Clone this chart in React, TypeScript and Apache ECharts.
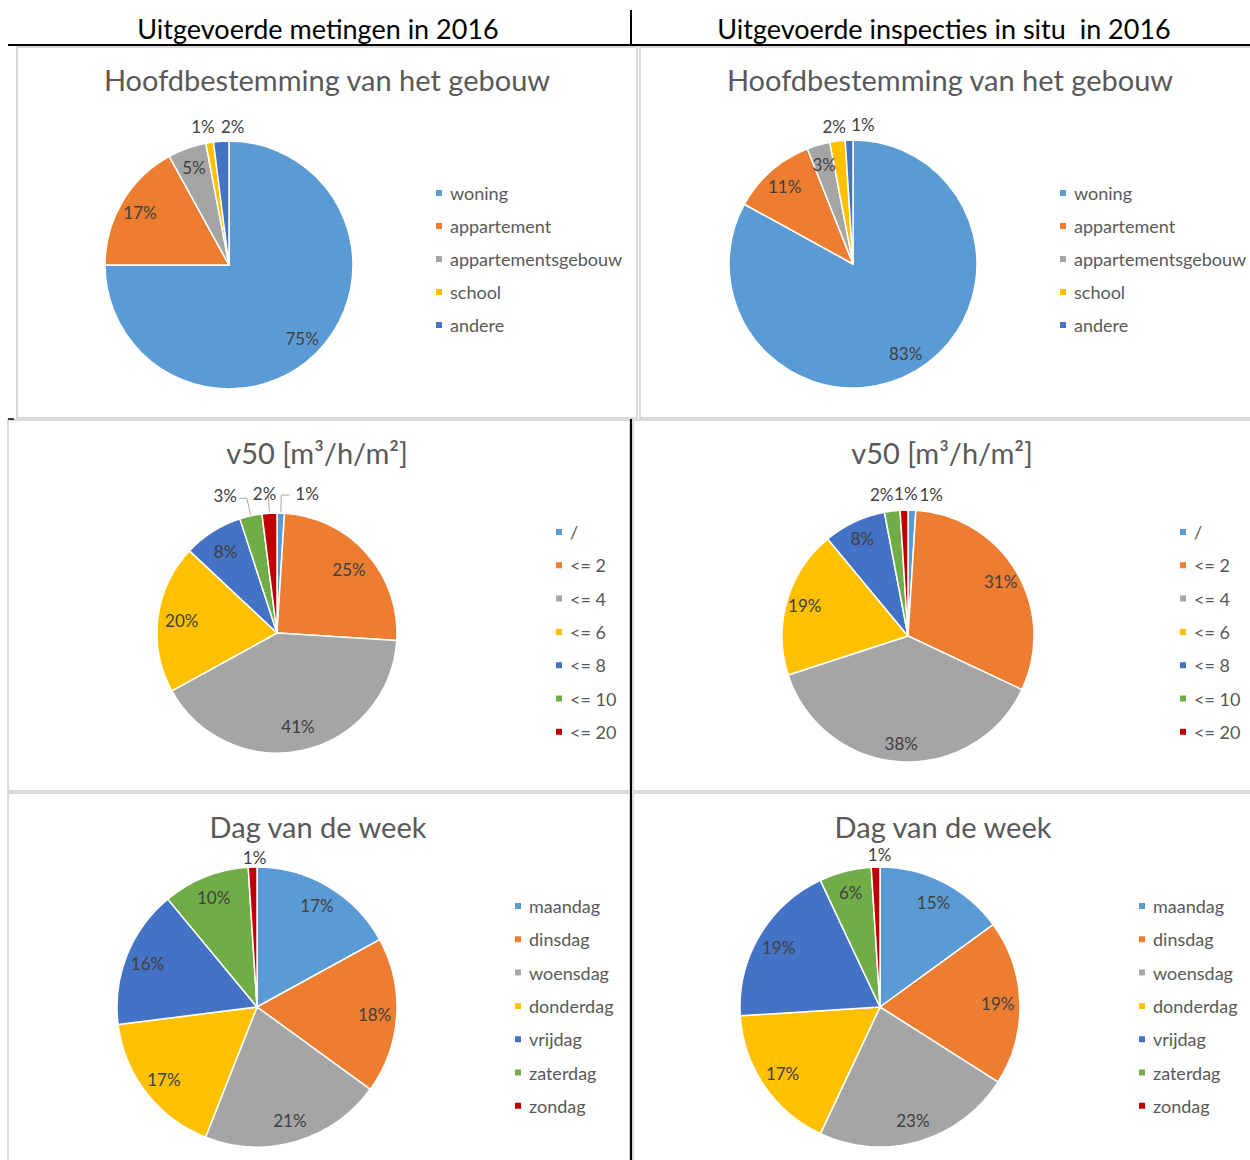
import React, { useEffect, useRef } from "react";
import * as echarts from "echarts";

// ---------- data ----------
const buildingCats = ["woning", "appartement", "appartementsgebouw", "school", "andere"];
const buildingMetingen = [75, 17, 5, 1, 2];
const buildingInspecties = [83, 11, 3, 2, 1];

const v50Cats = ["/", "<= 2", "<= 4", "<= 6", "<= 8", "<= 10", "<= 20"];
const v50Metingen = [1, 25, 41, 20, 8, 3, 2];
const v50Inspecties = [1, 31, 38, 19, 8, 2, 1];

const dayCats = ["maandag", "dinsdag", "woensdag", "donderdag", "vrijdag", "zaterdag", "zondag"];
const dayMetingen = [17, 18, 21, 17, 16, 10, 1];
const dayInspecties = [15, 19, 23, 17, 19, 6, 1];

const headerLeft = "Uitgevoerde metingen in 2016";
const headerRight = "Uitgevoerde inspecties in situ  in 2016";
const titleBuilding = "Hoofdbestemming van het gebouw";
const titleV50 = "v50 [m³/h/m²]";
const titleDay = "Dag van de week";

const palette = ["#5B9BD5", "#ED7D31", "#A5A5A5", "#FFC000", "#4472C4", "#70AD47", "#C00000"];

// ---------- layout / style ----------
const FONT = "Lato, 'Open Sans', sans-serif";
const TEXT_GREY = "#595959";
const LABEL_GREY = "#404040";

type Panel = {
  title: string;
  cats: string[];
  values: number[];
  cx: number; cy: number; r: number;
  inner: number;
  titleX: number; titleY: number;
  legendX: number; legendY: number; legendStep: number;
  outside: number[];
  nudges: Record<number, [number, number]>;
  lines: boolean;
  lineLen: number; lineLen2: number;
  straight: number[];
};

const panels: Panel[] = [
  {
    title: titleBuilding, cats: buildingCats, values: buildingMetingen,
    cx: 229, cy: 265, r: 124, inner: 0.62, titleX: 327, titleY: 80,
    legendX: 434, legendY: 193, legendStep: 33,
    outside: [3, 4], nudges: { 3: [12, -4], 4: [29, -3] }, lines: false, lineLen: 12, lineLen2: 0, straight: [],
  },
  {
    title: titleBuilding, cats: buildingCats, values: buildingInspecties,
    cx: 853, cy: 264, r: 124, inner: 0.62, titleX: 950, titleY: 80,
    legendX: 1058, legendY: 193, legendStep: 33,
    outside: [3, 4], nudges: { 3: [15, -3], 4: [31, -4] }, lines: false, lineLen: 12, lineLen2: 0, straight: [],
  },
  {
    title: titleV50, cats: v50Cats, values: v50Metingen,
    cx: 277, cy: 633, r: 120, inner: 0.55, titleX: 317, titleY: 453,
    legendX: 554, legendY: 532, legendStep: 33.3,
    outside: [0, 5, 6], nudges: { 0: [1, -2], 5: [3, -3], 6: [13, -2] }, lines: true, lineLen: 18, lineLen2: 8, straight: [6],
  },
  {
    title: titleV50, cats: v50Cats, values: v50Inspecties,
    cx: 908, cy: 636, r: 126, inner: 0.66, titleX: 942, titleY: 453,
    legendX: 1178, legendY: 532, legendStep: 33.3,
    outside: [0, 5, 6], nudges: { 0: [2, -2], 5: [8, -3], 6: [19, -3] }, lines: false, lineLen: 14, lineLen2: 0, straight: [],
  },
  {
    title: titleDay, cats: dayCats, values: dayMetingen,
    cx: 257, cy: 1007, r: 140, inner: 0.64, titleX: 318, titleY: 827,
    legendX: 513, legendY: 906, legendStep: 33.3,
    outside: [6], nudges: { 6: [19, 0] }, lines: false, lineLen: 10, lineLen2: 0, straight: [],
  },
  {
    title: titleDay, cats: dayCats, values: dayInspecties,
    cx: 880, cy: 1007, r: 140, inner: 0.64, titleX: 943, titleY: 827,
    legendX: 1137, legendY: 906, legendStep: 33.3,
    outside: [6], nudges: { 6: [21, -3] }, lines: false, lineLen: 10, lineLen2: 0, straight: [],
  },
];

const panelBoxes = [
  [17, 47, 620, 371],
  [640, 47, 612, 371],
  [8, 420, 622, 371],
  [633, 420, 619, 371],
  [8, 793, 622, 369],
  [633, 793, 619, 369],
];

const LEGEND_FONT = 18;
const LEGEND_LH = 18;
const LABEL_FONT = 17;
const TITLE_FONT = 29;
const HEADER_FONT = 27;

function buildOption() {
  const title: any[] = [];
  const legend: any[] = [];
  const series: any[] = [];

  panels.forEach((p) => {
    title.push({
      text: p.title,
      left: p.titleX,
      top: p.titleY - TITLE_FONT / 2 - 1,
      textAlign: "center",
      padding: 0,
      textStyle: { fontFamily: FONT, fontSize: TITLE_FONT, fontWeight: "normal", color: TEXT_GREY },
    });

    legend.push({
      orient: "vertical",
      left: p.legendX,
      top: p.legendY - LEGEND_LH / 2,
      padding: 0,
      icon: "rect",
      itemWidth: 8,
      itemHeight: 8,
      itemGap: p.legendStep - LEGEND_LH,
      selectedMode: false,
      data: p.cats,
      textStyle: {
        fontFamily: FONT, fontSize: LEGEND_FONT, color: TEXT_GREY,
        lineHeight: LEGEND_LH, padding: [0, 0, 0, 2],
      },
    });

    const labelStyle = { fontFamily: FONT, fontSize: LABEL_FONT, color: LABEL_GREY, formatter: "{c}%" };

    // main pie: slices + small outside labels
    series.push({
      type: "pie",
      center: [p.cx, p.cy],
      radius: p.r,
      startAngle: 90,
      clockwise: true,
      avoidLabelOverlap: false,
      emphasis: { disabled: true },
      itemStyle: { borderColor: "#ffffff", borderWidth: 1.5 },
      label: { show: true, position: "outside", ...labelStyle },
      labelLine: {
        show: p.lines,
        length: p.lineLen,
        length2: p.lineLen2,
        smooth: false,
        lineStyle: { color: "#A6A6A6", width: 1 },
      },
      labelLayout: (params: any) => {
        const n = p.nudges[params.dataIndex];
        return n ? { dx: n[0], dy: n[1] } : {};
      },
      data: p.cats.map((name, i) => ({
        name,
        value: p.values[i],
        itemStyle: { color: palette[i] },
        label: { show: p.outside.includes(i) },
        labelLine: {
          show: p.lines && p.outside.includes(i),
          ...(p.straight.includes(i) ? { length2: 0 } : {}),
        },
      })),
    });

    // transparent ring carrying the inside labels (placed at ~0.8 r like Excel)
    series.push({
      type: "pie",
      center: [p.cx, p.cy],
      radius: [p.r * p.inner, p.r],
      startAngle: 90,
      clockwise: true,
      silent: true,
      legendHoverLink: false,
      avoidLabelOverlap: false,
      emphasis: { disabled: true },
      itemStyle: { color: "rgba(0,0,0,0)", borderWidth: 0 },
      label: { show: true, position: "inside", ...labelStyle },
      labelLine: { show: false },
      data: p.cats.map((name, i) => ({
        name,
        value: p.values[i],
        label: { show: !p.outside.includes(i) },
      })),
    });
  });

  const graphic: any[] = [];
  panelBoxes.forEach(([x, y, w, h]) => {
    graphic.push({
      type: "rect",
      silent: true,
      z: -10,
      shape: { x, y, width: w, height: h },
      style: { fill: "none", stroke: "#D9D9D9", lineWidth: 2 },
    });
  });
  // table lines
  graphic.push({ type: "line", silent: true, shape: { x1: 8, y1: 45, x2: 1250, y2: 45 }, style: { stroke: "#000", lineWidth: 2 } });
  graphic.push({ type: "line", silent: true, shape: { x1: 631, y1: 10, x2: 631, y2: 45 }, style: { stroke: "#000", lineWidth: 2 } });
  graphic.push({ type: "line", silent: true, shape: { x1: 631, y1: 419, x2: 631, y2: 1160 }, style: { stroke: "#000", lineWidth: 2 } });
  graphic.push({ type: "line", silent: true, shape: { x1: 8, y1: 419, x2: 14, y2: 419 }, style: { stroke: "#000", lineWidth: 1.5 } });
  // header texts
  graphic.push({
    type: "text", x: 318, y: 28,
    style: { text: headerLeft, fontFamily: FONT, fontSize: HEADER_FONT, fill: "#000", align: "center", verticalAlign: "middle" },
  });
  graphic.push({
    type: "text", x: 944, y: 28,
    style: { text: headerRight, fontFamily: FONT, fontSize: HEADER_FONT, fill: "#000", align: "center", verticalAlign: "middle" },
  });

  return {
    animation: false,
    backgroundColor: "#ffffff",
    title,
    legend,
    series,
    graphic,
  };
}

export default function App() {
  const ref = useRef<HTMLDivElement>(null);
  useEffect(() => {
    if (!ref.current) return;
    const chart = echarts.init(ref.current, undefined, { renderer: "svg" });
    chart.setOption(buildOption() as any);
    return () => chart.dispose();
  }, []);
  return (
    <div
      ref={ref}
      style={{ position: "absolute", left: 0, top: 0, width: 1250, height: 1160, background: "#fff" }}
    />
  );
}
